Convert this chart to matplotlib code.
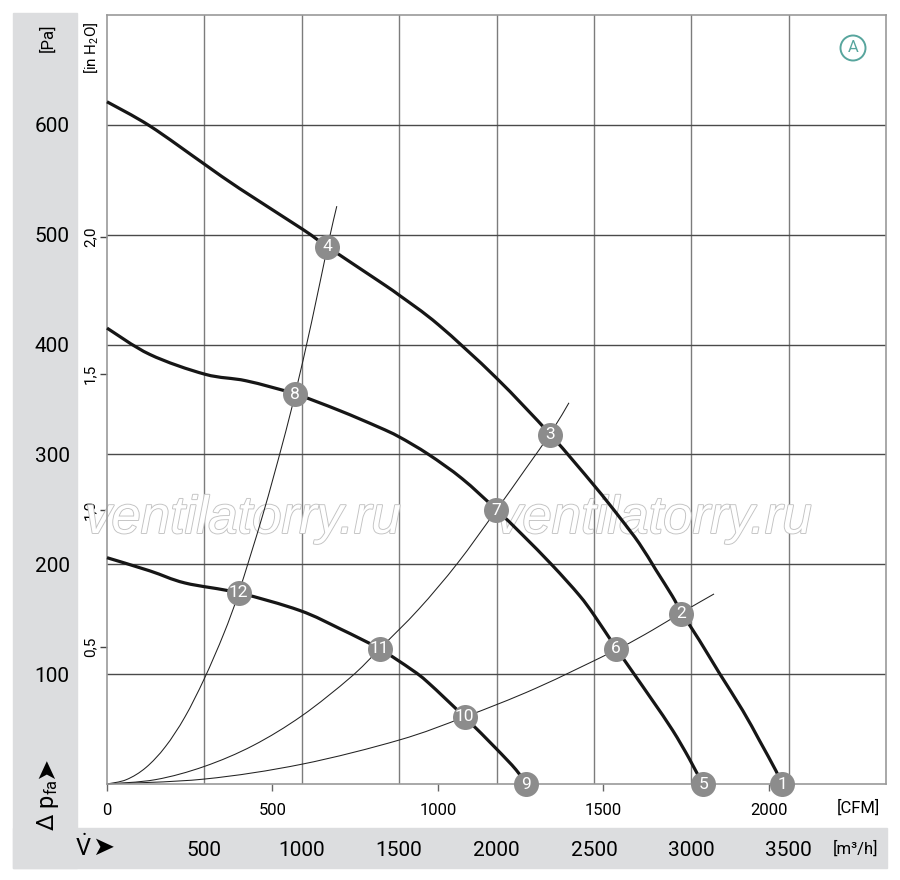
import matplotlib
matplotlib.use("Agg")
import matplotlib.pyplot as plt
import matplotlib.patheffects as pe
from matplotlib.patches import Rectangle, PathPatch
from matplotlib.path import Path

plt.rcParams['font.family'] = ['Roboto', 'DejaVu Sans']
plt.rcParams['mathtext.default'] = 'regular'

# fan curves: air flow [m3/h] and static pressure [Pa]
top_q = [0, 220, 502, 681, 1004, 1132, 1394, 1500, 1702, 1997, 2277, 2500,
         2631, 2733, 2818, 2903, 2947, 3041, 3144, 3264, 3349, 3435, 3466]
top_p = [621, 599, 564, 542, 505, 489, 458, 445, 418, 370, 318, 272,
         243, 219, 195, 171, 157, 131, 101, 67, 40, 12, 0]

mid_q = [0, 220, 503, 715, 966, 1193, 1393, 1500, 1651, 1823, 1998, 2132,
         2287, 2424, 2500, 2613, 2699, 2801, 2904, 2990, 3058]
mid_p = [415, 391, 373, 367, 355, 340, 325, 316, 300, 278, 250, 227,
         199, 172, 154, 124, 102, 76, 49, 23, 0]

low_q = [0, 220, 400, 676, 989, 1200, 1400, 1565, 1651, 1836, 1994, 2100, 2150]
low_p = [206, 194, 183, 174, 158, 141, 123, 104, 92, 61, 33, 13, 0]

# system resistance curves (thin)
sys1_q = [0, 100, 200, 300, 400, 500, 600, 676, 800, 900, 966, 1050, 1132, 1180]
sys1_p = [0, 4, 15, 34, 61, 96, 137, 174, 245, 309, 355, 420, 489, 526]
sys2_q = [0, 250, 500, 750, 1000, 1250, 1400, 1600, 1800, 1998, 2150, 2280, 2372]
sys2_p = [0, 4, 16, 35, 62, 97, 123, 159, 201, 249, 287, 320, 347]
sys3_q = [0, 500, 1000, 1500, 1836, 2200, 2613, 2800, 2950, 3117]
sys3_p = [0, 4.5, 18, 40, 61, 87, 122, 140, 156, 173]

# numbered operating points
pt_num = [1, 2, 3, 4, 5, 6, 7, 8, 9, 10, 11, 12]
pt_q = [3466, 2947, 2277, 1132, 3062, 2613, 1998, 966, 2150, 1836, 1400, 676]
pt_p = [0, 155, 318, 489, 0, 123, 249, 355, 0, 61, 123, 174]

pa_ticks = [100, 200, 300, 400, 500, 600]
m3h_ticks = [500, 1000, 1500, 2000, 2500, 3000, 3500]
cfm_ticks = [0, 500, 1000, 1500, 2000]
inh2o_ticks = [0.5, 1.0, 1.5, 2.0]
inh2o_labels = ['0,5', '1,0', '1,5', '2,0']

W, H = 900, 880


def fx(x):
    return x / W


def fy(y):
    return 1 - y / H


def smooth_path(q, p):
    """Catmull-Rom through the read points, drawn as cubic Bezier segments."""
    pts = list(zip(q, p))
    verts = [pts[0]]
    codes = [Path.MOVETO]
    n = len(pts)
    for i in range(n - 1):
        p0 = pts[max(i - 1, 0)]
        p1 = pts[i]
        p2 = pts[i + 1]
        p3 = pts[min(i + 2, n - 1)]
        c1 = (p1[0] + (p2[0] - p0[0]) / 6, p1[1] + (p2[1] - p0[1]) / 6)
        c2 = (p2[0] - (p3[0] - p1[0]) / 6, p2[1] - (p3[1] - p1[1]) / 6)
        verts += [c1, c2, p2]
        codes += [Path.CURVE4] * 3
    return Path(verts, codes)


fig = plt.figure(figsize=(9, 8.8), dpi=100)
band = '#dcdddf'
fig.patches.append(Rectangle((fx(13), fy(868)), 64 / W, 855 / H,
                             transform=fig.transFigure, color=band, zorder=-5))
fig.patches.append(Rectangle((fx(13), fy(868)), 874 / W, 40 / H,
                             transform=fig.transFigure, color=band, zorder=-5))

ax = fig.add_axes([fx(107), fy(784), 779 / W, 769 / H])
ax.set_xlim(0, 4000)
ax.set_ylim(0, 700)
ax.set_axisbelow(True)
for s in ax.spines.values():
    s.set_color('#9a9a9a')
    s.set_linewidth(1.2)

secx = ax.secondary_xaxis('bottom', functions=(lambda q: q / 1.699, lambda c: c * 1.699))
secx.set_xticks(cfm_ticks)
secx.set_xticklabels([str(v) for v in cfm_ticks])
secx.tick_params(length=5, width=1, color='#666666', pad=9, labelsize=12)
secx.spines['bottom'].set_visible(False)

secy = ax.secondary_yaxis('left', functions=(lambda p: p / 249.09, lambda h: h * 249.09))
secy.set_yticks(inh2o_ticks)
secy.set_yticklabels(inh2o_labels, rotation=90, va='center')
secy.tick_params(length=5, width=1, color='#444444', pad=2, labelsize=11)
secy.spines['left'].set_visible(False)

ax.set_xticks(m3h_ticks)
ax.set_xticklabels([str(v) for v in m3h_ticks])
ax.tick_params(axis='x', length=0, pad=41, labelsize=15)
ax.set_yticks(pa_ticks)
ax.set_yticklabels([str(v) for v in pa_ticks])
ax.tick_params(axis='y', length=0, pad=27, labelsize=15)
ax.xaxis.grid(True, color='#7c7c7c', lw=1.0)
ax.yaxis.grid(True, color='#4a4a4a', lw=1.0)

for q, p in [(sys1_q, sys1_p), (sys2_q, sys2_p), (sys3_q, sys3_p)]:
    ax.add_patch(PathPatch(smooth_path(q, p), fill=False, ec='#222222', lw=0.75,
                           zorder=2, clip_on=False))
for q, p in [(top_q, top_p), (mid_q, mid_p), (low_q, low_p)]:
    ax.add_patch(PathPatch(smooth_path(q, p), fill=False, ec='#161616', lw=2.3,
                           zorder=3, clip_on=False, capstyle='butt'))

ax.plot(pt_q, pt_p, 'o', ms=18, color='#8c8c8c', mec='none', zorder=5, clip_on=False)
for n, q, p in zip(pt_num, pt_q, pt_p):
    ax.text(q, p, str(n), color='white', ha='center', va='center', size=12.5,
            zorder=6, clip_on=False)

# watermark
for cx in [243, 654]:
    ax.text(fx(cx), fy(533), 'ventilatorry.ru', transform=fig.transFigure,
            family='Liberation Sans', style='italic', size=38, color='white',
            ha='center', va='baseline', zorder=1,
            path_effects=[pe.withStroke(linewidth=1.3, foreground='#c2c2c2')])

teal = '#57a59d'
fig.text(fx(853), fy(48), 'A', color=teal, size=12, ha='center', va='center',
         bbox=dict(boxstyle='circle,pad=0.3', fc='white', ec=teal, lw=1.4))

fig.text(fx(47), fy(38), '[Pa]', rotation=90, ha='center', va='center', size=12)
fig.text(fx(91), fy(48), '[in H$_2$O]', rotation=90, ha='center', va='center', size=11)
fig.text(fx(858), fy(808), '[CFM]', ha='center', va='center', size=12)
fig.text(fx(855), fy(849), '[m³/h]', ha='center', va='center', size=12)
fig.text(fx(83), fy(848), r'$\dot{V}$', ha='center', va='center', size=17)
fig.text(fx(103), fy(848), '➤', family='DejaVu Sans', ha='center', va='center', size=19)
fig.text(fx(48), fy(805), 'Δ p$_{fa}$', rotation=90, ha='center', va='center', size=17)
fig.text(fx(46), fy(768), '➤', family='DejaVu Sans', rotation=90, ha='center',
         va='center', size=19)

fig.savefig('out.png', dpi=100)
